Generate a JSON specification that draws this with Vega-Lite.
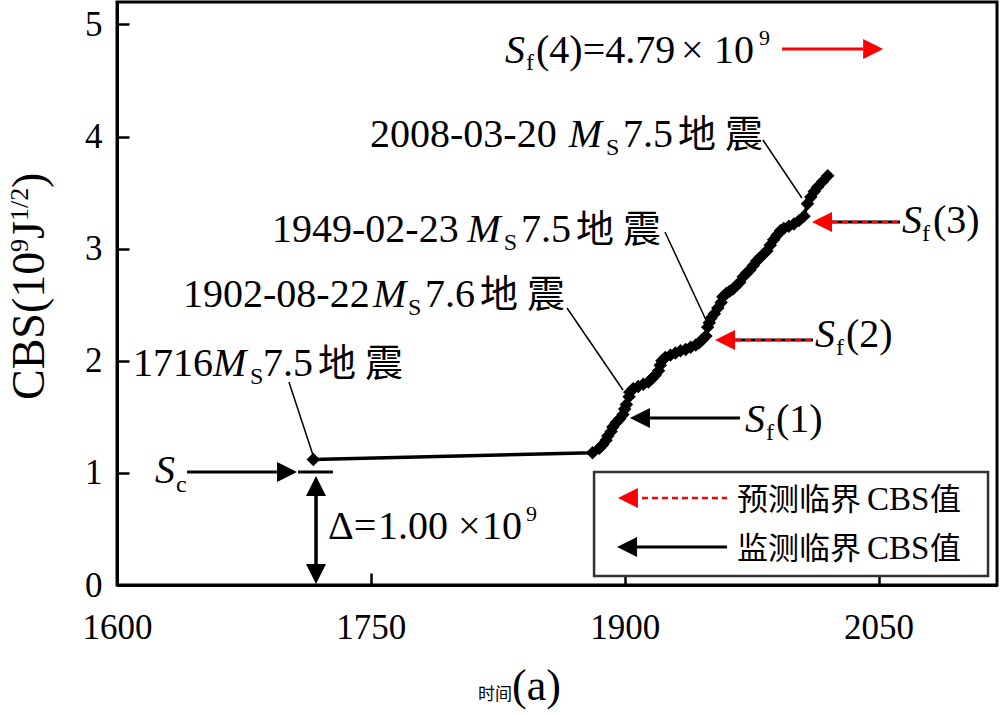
{
  "$schema": "https://vega.github.io/schema/vega-lite/v6.json",
  "width": 880,
  "height": 583,
  "autosize": {"type": "none"},
  "padding": {"left": 117, "top": 2, "right": 3, "bottom": 130},
  "background": "white",
  "config": {"view": {"stroke": "black", "strokeWidth": 3}, "font": "Liberation Serif"},
  "datasets": {
    "curve": [
      {"year": 1716, "cbs": 1.12}, {"year": 1881, "cbs": 1.18}, {"year": 1885, "cbs": 1.22}, {"year": 1887, "cbs": 1.25},
      {"year": 1889, "cbs": 1.29}, {"year": 1890, "cbs": 1.33}, {"year": 1892, "cbs": 1.37}, {"year": 1893, "cbs": 1.41},
      {"year": 1895, "cbs": 1.45}, {"year": 1897, "cbs": 1.48}, {"year": 1899, "cbs": 1.52}, {"year": 1900, "cbs": 1.57},
      {"year": 1901, "cbs": 1.61}, {"year": 1902.6, "cbs": 1.68}, {"year": 1903, "cbs": 1.72}, {"year": 1905, "cbs": 1.75},
      {"year": 1908, "cbs": 1.77}, {"year": 1911, "cbs": 1.79}, {"year": 1914, "cbs": 1.81}, {"year": 1916, "cbs": 1.84},
      {"year": 1918, "cbs": 1.87}, {"year": 1920, "cbs": 1.91}, {"year": 1921, "cbs": 1.96}, {"year": 1922, "cbs": 2.0},
      {"year": 1924, "cbs": 2.03}, {"year": 1927, "cbs": 2.05}, {"year": 1930, "cbs": 2.07}, {"year": 1933, "cbs": 2.09},
      {"year": 1936, "cbs": 2.1}, {"year": 1939, "cbs": 2.12}, {"year": 1942, "cbs": 2.14}, {"year": 1944, "cbs": 2.16},
      {"year": 1946, "cbs": 2.19}, {"year": 1948, "cbs": 2.22}, {"year": 1949, "cbs": 2.3}, {"year": 1950, "cbs": 2.34},
      {"year": 1951, "cbs": 2.38}, {"year": 1953, "cbs": 2.42}, {"year": 1955, "cbs": 2.47}, {"year": 1957, "cbs": 2.52},
      {"year": 1958, "cbs": 2.57}, {"year": 1960, "cbs": 2.6}, {"year": 1962, "cbs": 2.62}, {"year": 1964, "cbs": 2.64},
      {"year": 1966, "cbs": 2.67}, {"year": 1968, "cbs": 2.7}, {"year": 1970, "cbs": 2.75}, {"year": 1972, "cbs": 2.78},
      {"year": 1974, "cbs": 2.81}, {"year": 1976, "cbs": 2.85}, {"year": 1978, "cbs": 2.89}, {"year": 1980, "cbs": 2.92},
      {"year": 1982, "cbs": 2.95}, {"year": 1984, "cbs": 2.98}, {"year": 1986, "cbs": 3.03}, {"year": 1988, "cbs": 3.08},
      {"year": 1990, "cbs": 3.12}, {"year": 1992, "cbs": 3.16}, {"year": 1994, "cbs": 3.18}, {"year": 1997, "cbs": 3.2},
      {"year": 2000, "cbs": 3.22}, {"year": 2003, "cbs": 3.25}, {"year": 2006, "cbs": 3.29}, {"year": 2008, "cbs": 3.4},
      {"year": 2010, "cbs": 3.46}, {"year": 2012, "cbs": 3.51}, {"year": 2014, "cbs": 3.55}, {"year": 2017, "cbs": 3.6},
      {"year": 2020, "cbs": 3.65}
    ],
    "leaders": [
      {"year": 1701.6, "cbs": 1.811, "year2": 1715.8, "cbs2": 1.16},
      {"year": 1865.9, "cbs": 2.471, "year2": 1899.0, "cbs2": 1.739},
      {"year": 1923.8, "cbs": 3.149, "year2": 1948.6, "cbs2": 2.346},
      {"year": 1981.7, "cbs": 3.969, "year2": 2004.7, "cbs2": 3.452}
    ],
    "shafts_black": [
      {"year": 1915.0, "year2": 1968.1, "cbs": 1.49},
      {"year": 1965.2, "year2": 2011.3, "cbs": 2.185},
      {"year": 2022.5, "year2": 2062.7, "cbs": 3.238},
      {"year": 1641.4, "year2": 1694.5, "cbs": 1.008},
      {"year": 1707.0, "year2": 1727.6, "cbs": 1.008},
      {"year": 1907.3, "year2": 1960.5, "cbs": 0.339}
    ],
    "shafts_red_dash": [
      {"year": 1965.2, "year2": 2011.3, "cbs": 2.185},
      {"year": 2022.5, "year2": 2062.7, "cbs": 3.238},
      {"year": 1910.2, "year2": 1960.5, "cbs": 0.776}
    ],
    "shafts_red": [{"year": 1993.0, "year2": 2040.8, "cbs": 4.78}],
    "shaft_vertical": [{"year": 1717.6, "cbs": 0.812, "cbs2": 0.178}],
    "head_left_black": [{"year": 1903.1, "cbs": 1.49}, {"year": 1895.5, "cbs": 0.339}],
    "head_left_red": [{"year": 1953.4, "cbs": 2.185}, {"year": 2010.7, "cbs": 3.238}, {"year": 1896.0, "cbs": 0.776}],
    "head_right_black": [{"year": 1706.4, "cbs": 1.008}],
    "head_right_red": [{"year": 2052.7, "cbs": 4.78}],
    "head_up": [{"year": 1717.6, "cbs": 0.972}],
    "head_down": [{"year": 1717.6, "cbs": 0.009}],
    "legend_box": [{"year": 1881.9, "year2": 2114.7, "cbs": 1.008, "cbs2": 0.08}],
    "t_reg": [
      {"year": 1609.5, "cbs": 1.864, "label": "1716"},
      {"year": 1686.3, "cbs": 1.864, "label": "7.5"},
      {"year": 1639.0, "cbs": 2.48, "label": "1902-08-22"},
      {"year": 1782.0, "cbs": 2.48, "label": "7.6"},
      {"year": 1691.6, "cbs": 3.059, "label": "1949-02-23"},
      {"year": 1838.7, "cbs": 3.059, "label": "7.5"},
      {"year": 1749.5, "cbs": 3.907, "label": "2008-03-20"},
      {"year": 1899.0, "cbs": 3.907, "label": "7.5"},
      {"year": 1989.4, "cbs": 1.365, "label": "(1)"},
      {"year": 2030.8, "cbs": 2.123, "label": "(2)"},
      {"year": 2082.2, "cbs": 3.14, "label": "(3)"},
      {"year": 1847.6, "cbs": 4.656, "label": "(4)=4.79"},
      {"year": 1933.3, "cbs": 4.656, "label": "×"},
      {"year": 1952.8, "cbs": 4.656, "label": "10"},
      {"year": 1724.7, "cbs": 0.41, "label": "Δ="},
      {"year": 1754.2, "cbs": 0.41, "label": "1.00"},
      {"year": 1801.5, "cbs": 0.41, "label": "×"},
      {"year": 1815.7, "cbs": 0.41, "label": "10"}
    ],
    "t_cjk": [
      {"year": 1718.8, "cbs": 1.864, "label": "地"},
      {"year": 1746.5, "cbs": 1.864, "label": "震"},
      {"year": 1814.5, "cbs": 2.48, "label": "地"},
      {"year": 1842.3, "cbs": 2.48, "label": "震"},
      {"year": 1871.2, "cbs": 3.059, "label": "地"},
      {"year": 1899.0, "cbs": 3.059, "label": "震"},
      {"year": 1931.5, "cbs": 3.907, "label": "地"},
      {"year": 1959.3, "cbs": 3.907, "label": "震"}
    ],
    "t_ital": [
      {"year": 1656.7, "cbs": 1.864, "label": "M"},
      {"year": 1751.2, "cbs": 2.48, "label": "M"},
      {"year": 1806.9, "cbs": 3.059, "label": "M"},
      {"year": 1867.0, "cbs": 3.907, "label": "M"},
      {"year": 1971.1, "cbs": 1.365, "label": "S"},
      {"year": 2012.5, "cbs": 2.123, "label": "S"},
      {"year": 2063.9, "cbs": 3.14, "label": "S"},
      {"year": 1829.3, "cbs": 4.656, "label": "S"},
      {"year": 1622.5, "cbs": 0.91, "label": "S"}
    ],
    "t_sub": [
      {"year": 1678.6, "cbs": 1.793, "label": "S"},
      {"year": 1771.9, "cbs": 2.408, "label": "S"},
      {"year": 1828.6, "cbs": 2.988, "label": "S"},
      {"year": 1888.9, "cbs": 3.835, "label": "S"},
      {"year": 1983.5, "cbs": 1.293, "label": "f"},
      {"year": 2024.9, "cbs": 2.051, "label": "f"},
      {"year": 2075.7, "cbs": 3.068, "label": "f"},
      {"year": 1841.7, "cbs": 4.594, "label": "f"},
      {"year": 1634.9, "cbs": 0.83, "label": "c"}
    ],
    "t_sup": [
      {"year": 1979.4, "cbs": 4.816, "label": "9"},
      {"year": 1841.7, "cbs": 0.571, "label": "9"}
    ],
    "t_legend_cjk": [
      {"year": 1966.4, "cbs": 0.669, "label": "预测临界"},
      {"year": 2080.4, "cbs": 0.669, "label": "值"},
      {"year": 1966.4, "cbs": 0.232, "label": "监测临界"},
      {"year": 2080.4, "cbs": 0.232, "label": "值"}
    ],
    "t_legend_lat": [
      {"year": 2043.2, "cbs": 0.669, "label": "CBS"},
      {"year": 2043.2, "cbs": 0.232, "label": "CBS"}
    ],
    "t_xtitle_small": [{"year": 1813.3, "cbs": -1.026, "label": "时间"}],
    "t_xtitle_big": [{"year": 1833.4, "cbs": -1.026, "label": "(a)"}],
    "t_ytitle": [
      {"year": 1556.8, "cbs": 1.65, "label": "CBS(10"},
      {"year": 1556.8, "cbs": 3.086, "label": "J"},
      {"year": 1556.8, "cbs": 3.541, "label": ")"}
    ],
    "t_ytitle_sup": [
      {"year": 1547.4, "cbs": 2.97, "label": "9"},
      {"year": 1547.4, "cbs": 3.247, "label": "1/2"}
    ]
  },
  "encoding": {
    "x": {
      "field": "year", "type": "quantitative",
      "scale": {"domain": [1600, 2120], "nice": false, "zero": false},
      "axis": {"title": null, "values": [1600, 1750, 1900, 2050], "format": "d", "grid": false,
        "domainColor": "black", "domainWidth": 3, "tickColor": "black", "tickWidth": 2.5, "tickSize": -12,
        "labelFont": "Liberation Serif", "labelFontSize": 35, "labelColor": "black", "labelPadding": 37,
        "labelFlush": false, "labelOverlap": false}
    },
    "y": {
      "field": "cbs", "type": "quantitative",
      "scale": {"domain": [0, 5.2], "nice": false, "zero": false},
      "axis": {"title": null, "values": [0, 1, 2, 3, 4, 5], "format": "d", "grid": false,
        "domainColor": "black", "domainWidth": 3, "tickColor": "black", "tickWidth": 2.5, "tickSize": -12,
        "labelFont": "Liberation Serif", "labelFontSize": 35, "labelColor": "black", "labelPadding": 27,
        "labelFlush": false, "labelOverlap": false}
    }
  },
  "layer": [
    {"data": {"name": "curve"}, "mark": {"type": "line", "color": "black", "strokeWidth": 3.5}},
    {"data": {"name": "curve"}, "mark": {"type": "point", "shape": "diamond", "filled": true, "color": "black", "opacity": 1, "size": 180}},
    {"data": {"name": "leaders"}, "mark": {"type": "rule", "color": "black", "strokeWidth": 1.5},
      "encoding": {"x2": {"field": "year2"}, "y2": {"field": "cbs2"}}},
    {"data": {"name": "legend_box"}, "mark": {"type": "rect", "fill": "white", "stroke": "#333333", "strokeWidth": 2.5},
      "encoding": {"x2": {"field": "year2"}, "y2": {"field": "cbs2"}}},
    {"data": {"name": "shafts_black"}, "mark": {"type": "rule", "color": "black", "strokeWidth": 3},
      "encoding": {"x2": {"field": "year2"}}},
    {"data": {"name": "shafts_red_dash"}, "mark": {"type": "rule", "color": "#ff0000", "strokeWidth": 2.5, "strokeDash": [6, 4]},
      "encoding": {"x2": {"field": "year2"}}},
    {"data": {"name": "shafts_red"}, "mark": {"type": "rule", "color": "#ff0000", "strokeWidth": 3},
      "encoding": {"x2": {"field": "year2"}}},
    {"data": {"name": "shaft_vertical"}, "mark": {"type": "rule", "color": "black", "strokeWidth": 3.5},
      "encoding": {"y2": {"field": "cbs2"}}},
    {"data": {"name": "head_left_black"}, "mark": {"type": "point", "shape": "M0,0L2,-1L2,1Z", "filled": true, "color": "black", "opacity": 1, "size": 400, "strokeWidth": 0}},
    {"data": {"name": "head_left_red"}, "mark": {"type": "point", "shape": "M0,0L2,-1L2,1Z", "filled": true, "color": "#ff0000", "opacity": 1, "size": 400, "strokeWidth": 0}},
    {"data": {"name": "head_right_black"}, "mark": {"type": "point", "shape": "M0,0L-2,-1L-2,1Z", "filled": true, "color": "black", "opacity": 1, "size": 400, "strokeWidth": 0}},
    {"data": {"name": "head_right_red"}, "mark": {"type": "point", "shape": "M0,0L-2,-1L-2,1Z", "filled": true, "color": "#ff0000", "opacity": 1, "size": 400, "strokeWidth": 0}},
    {"data": {"name": "head_up"}, "mark": {"type": "point", "shape": "M0,0L-1,2L1,2Z", "filled": true, "color": "black", "opacity": 1, "size": 400, "strokeWidth": 0}},
    {"data": {"name": "head_down"}, "mark": {"type": "point", "shape": "M0,0L-1,-2L1,-2Z", "filled": true, "color": "black", "opacity": 1, "size": 400, "strokeWidth": 0}},
    {"data": {"name": "t_reg"}, "mark": {"type": "text", "align": "left", "baseline": "alphabetic", "font": "Liberation Serif", "fontSize": 40, "color": "black"},
      "encoding": {"text": {"field": "label"}}},
    {"data": {"name": "t_cjk"}, "mark": {"type": "text", "align": "left", "baseline": "alphabetic", "font": "Noto Sans CJK SC", "fontSize": 38, "color": "black"},
      "encoding": {"text": {"field": "label"}}},
    {"data": {"name": "t_ital"}, "mark": {"type": "text", "align": "left", "baseline": "alphabetic", "font": "Liberation Serif", "fontStyle": "italic", "fontSize": 40, "color": "black"},
      "encoding": {"text": {"field": "label"}}},
    {"data": {"name": "t_sub"}, "mark": {"type": "text", "align": "left", "baseline": "alphabetic", "font": "Liberation Serif", "fontSize": 24, "color": "black"},
      "encoding": {"text": {"field": "label"}}},
    {"data": {"name": "t_sup"}, "mark": {"type": "text", "align": "left", "baseline": "alphabetic", "font": "Liberation Serif", "fontSize": 22, "color": "black"},
      "encoding": {"text": {"field": "label"}}},
    {"data": {"name": "t_legend_cjk"}, "mark": {"type": "text", "align": "left", "baseline": "alphabetic", "font": "Noto Sans CJK SC", "fontSize": 31, "color": "black"},
      "encoding": {"text": {"field": "label"}}},
    {"data": {"name": "t_legend_lat"}, "mark": {"type": "text", "align": "left", "baseline": "alphabetic", "font": "Liberation Serif", "fontSize": 33, "color": "black"},
      "encoding": {"text": {"field": "label"}}},
    {"data": {"name": "t_xtitle_small"}, "mark": {"type": "text", "align": "left", "baseline": "alphabetic", "font": "Noto Sans CJK SC", "fontSize": 17, "color": "black"},
      "encoding": {"text": {"field": "label"}}},
    {"data": {"name": "t_xtitle_big"}, "mark": {"type": "text", "align": "left", "baseline": "alphabetic", "font": "Liberation Serif", "fontSize": 44, "color": "black"},
      "encoding": {"text": {"field": "label"}}},
    {"data": {"name": "t_ytitle"}, "mark": {"type": "text", "angle": 270, "align": "left", "baseline": "alphabetic", "font": "Liberation Serif", "fontSize": 46, "color": "black"},
      "encoding": {"text": {"field": "label"}}},
    {"data": {"name": "t_ytitle_sup"}, "mark": {"type": "text", "angle": 270, "align": "left", "baseline": "alphabetic", "font": "Liberation Serif", "fontSize": 26, "color": "black"},
      "encoding": {"text": {"field": "label"}}}
  ]
}
